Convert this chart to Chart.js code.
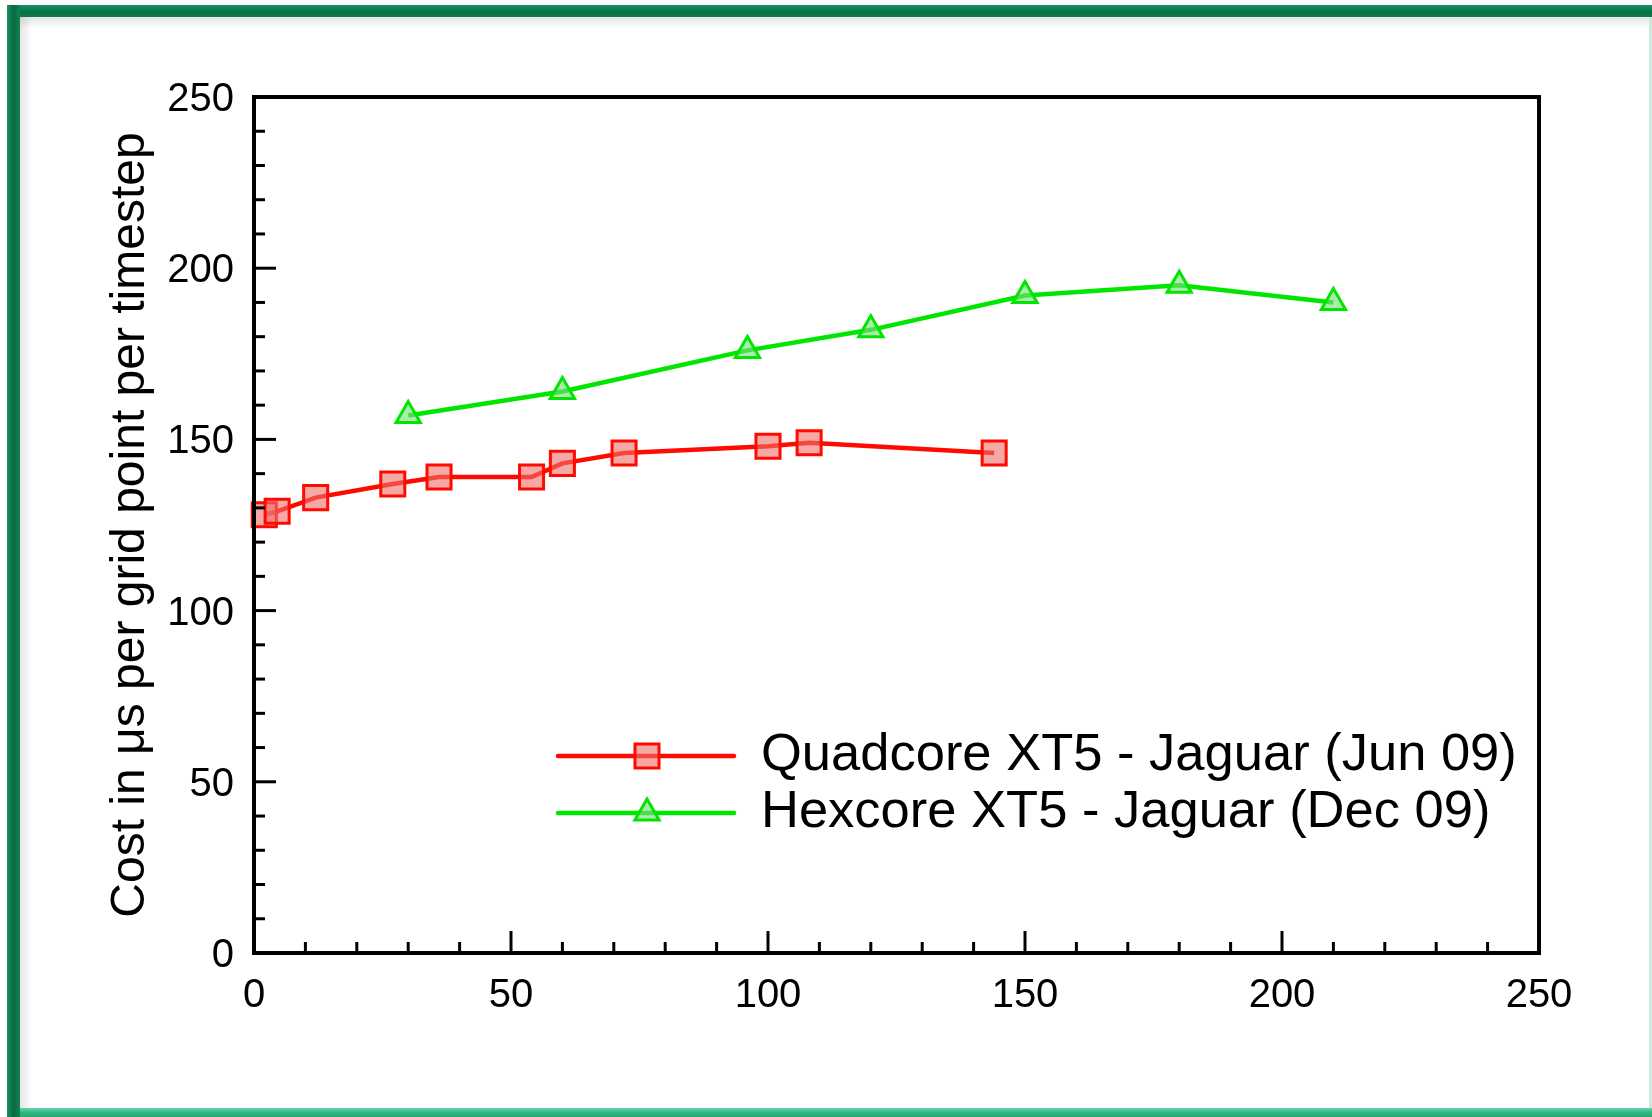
<!DOCTYPE html>
<html>
<head>
<meta charset="utf-8">
<script src="https://cdn.jsdelivr.net/npm/chart.js@4/dist/chart.umd.min.js"></script>
<style>
  html, body { margin: 0; padding: 0; background: #fff; overflow: hidden; }
  #frame { position: absolute; left: 0; top: 0; width: 1652px; height: 1117px; }
  .bar { position: absolute; }
  canvas { position: absolute; left: 0; top: 0; }
</style>
</head>
<body>
<div id="frame">
  <div class="bar" style="left:7px;top:5px;width:1645px;height:12px;background:linear-gradient(#13935f,#0a6f46 60%,#0c7c4f);"></div>
  <div class="bar" style="left:7px;top:5px;width:13px;height:1112px;background:linear-gradient(90deg,#13935f,#0a6a43 50%,#0f8455);"></div>
  <div class="bar" style="left:20px;top:1108px;width:1632px;height:9px;background:linear-gradient(#6ad5ab,#2fb882 50%,#27a873);"></div>
  <div class="bar" style="left:1649px;top:17px;width:3px;height:1091px;background:#cfe7dc;"></div>
  <div class="bar" style="left:20px;top:17px;width:1629px;height:12px;background:linear-gradient(rgba(0,0,0,0.10),rgba(0,0,0,0));"></div>
  <div class="bar" style="left:20px;top:17px;width:12px;height:1091px;background:linear-gradient(90deg,rgba(0,0,0,0.10),rgba(0,0,0,0));"></div>
</div>
<canvas id="c" width="1652" height="1117"></canvas>
<script>
// Cost per grid point per timestep, Jaguar XT5 runs
const seriesNames = ['Quadcore XT5 - Jaguar (Jun 09)', 'Hexcore XT5 - Jaguar (Dec 09)'];
const quadX = [2, 4.5, 12, 27, 36, 54, 60, 72, 100, 108, 144];
const quadY = [128, 129, 133, 137, 139, 139, 143, 146, 148, 149, 146];
const hexX = [30, 60, 96, 120, 150, 180, 210];
const hexY = [157, 164, 176, 182, 192, 195, 190];
const xTicks = [0, 50, 100, 150, 200, 250];
const yTicks = [0, 50, 100, 150, 200, 250];
const yTitle = 'Cost in \u03bcs per grid point per timestep';

const FONT = '"Liberation Sans", Arial, Helvetica, sans-serif';
const RED = '#ff0a00';
const GREEN = '#00e600';

const toPoints = (xs, ys) => xs.map((x, i) => ({ x, y: ys[i] }));

// Inward tick marks (major every 50, minor every 10) and the closed plot box
const boxTicks = {
  id: 'boxTicks',
  afterDatasetsDraw(chart) {
    const { ctx, chartArea: a, scales: { x, y } } = chart;
    ctx.save();
    ctx.strokeStyle = '#000';
    ctx.lineWidth = 3;
    for (let v = 10; v < 250; v += 10) {
      const len = v % 50 === 0 ? 22 : 11;
      const px = x.getPixelForValue(v);
      ctx.beginPath(); ctx.moveTo(px, a.bottom); ctx.lineTo(px, a.bottom - len); ctx.stroke();
      const py = y.getPixelForValue(v);
      ctx.beginPath(); ctx.moveTo(a.left, py); ctx.lineTo(a.left + len, py); ctx.stroke();
    }
    ctx.lineWidth = 4;
    ctx.strokeRect(a.left, a.top, a.right - a.left, a.bottom - a.top);
    ctx.restore();
  }
};

function marker(ctx, style, r, cx, cy) {
  ctx.beginPath();
  if (style === 'rect') {
    const s = Math.SQRT1_2 * r;
    ctx.rect(cx - s, cy - s, 2 * s, 2 * s);
  } else {
    let rad = 0;
    for (let k = 0; k < 3; k++) {
      const px = cx + Math.sin(rad) * r, py = cy - Math.cos(rad) * r;
      k === 0 ? ctx.moveTo(px, py) : ctx.lineTo(px, py);
      rad += 2 * Math.PI / 3;
    }
    ctx.closePath();
  }
  ctx.fill();
  ctx.stroke();
}

// Legend inside the plot: line sample with centred marker, then the label
const insideLegend = {
  id: 'insideLegend',
  afterDraw(chart) {
    const { ctx } = chart;
    ctx.save();
    chart.data.datasets.forEach((ds, i) => {
      const yy = 756 + i * 57;
      ctx.strokeStyle = ds.borderColor;
      ctx.lineWidth = ds.borderWidth;
      ctx.lineCap = 'round';
      ctx.beginPath(); ctx.moveTo(558, yy); ctx.lineTo(734, yy); ctx.stroke();
      ctx.fillStyle = ds.pointBackgroundColor;
      ctx.strokeStyle = ds.pointBorderColor;
      ctx.lineWidth = ds.pointBorderWidth;
      marker(ctx, ds.pointStyle, ds.pointRadius, 647, yy);
      ctx.fillStyle = '#000';
      ctx.font = '52.5px ' + FONT;
      ctx.textBaseline = 'middle';
      ctx.textAlign = 'left';
      ctx.fillText(ds.label, 761, yy);
    });
    ctx.restore();
  }
};

new Chart(document.getElementById('c'), {
  type: 'scatter',
  data: {
    datasets: [
      {
        label: seriesNames[0],
        data: toPoints(quadX, quadY),
        showLine: true,
        borderColor: RED,
        borderWidth: 4.5,
        pointStyle: 'rect',
        pointRadius: 17,
        pointBackgroundColor: 'rgba(240,110,105,0.6)',
        pointBorderColor: RED,
        pointBorderWidth: 3,
        clip: false
      },
      {
        label: seriesNames[1],
        data: toPoints(hexX, hexY),
        showLine: true,
        borderColor: GREEN,
        borderWidth: 4.5,
        pointStyle: 'triangle',
        pointRadius: 14,
        pointBackgroundColor: 'rgba(120,220,120,0.6)',
        pointBorderColor: GREEN,
        pointBorderWidth: 3,
        clip: false
      }
    ]
  },
  options: {
    responsive: false,
    animation: false,
    devicePixelRatio: 1,
    layout: { padding: { left: 80, top: 97, right: 113, bottom: 104 } },
    plugins: { legend: { display: false }, tooltip: { enabled: false } },
    scales: {
      x: {
        type: 'linear', min: 0, max: 250,
        afterBuildTicks: s => { s.ticks = xTicks.map(v => ({ value: v })); },
        afterFit: s => { s.height = 60; },
        grid: { display: false, drawTicks: false },
        border: { display: false },
        ticks: { color: '#000', font: { family: FONT, size: 40 }, padding: 19, maxRotation: 0 }
      },
      y: {
        type: 'linear', min: 0, max: 250,
        afterBuildTicks: s => { s.ticks = yTicks.map(v => ({ value: v })); },
        afterFit: s => { s.width = 174; },
        grid: { display: false, drawTicks: false },
        border: { display: false },
        ticks: { color: '#000', font: { family: FONT, size: 40 }, padding: 20, labelOffset: 3 },
        title: { display: true, text: yTitle, color: '#000', font: { family: FONT, size: 48 }, padding: { top: 22 } }
      }
    }
  },
  plugins: [boxTicks, insideLegend]
});
</script>
</body>
</html>
